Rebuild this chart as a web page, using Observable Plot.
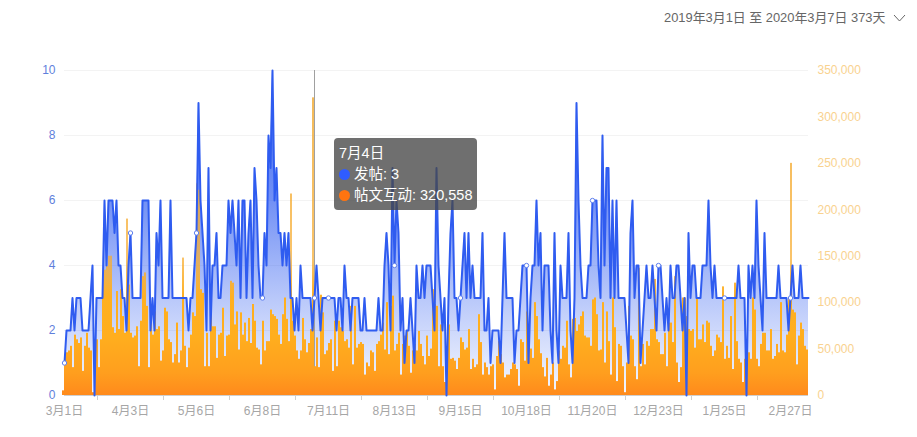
<!DOCTYPE html>
<html><head><meta charset="utf-8">
<script src="https://cdn.jsdelivr.net/npm/d3@7"></script>
<script src="https://cdn.jsdelivr.net/npm/@observablehq/plot@0.6"></script>
<style>
html,body{margin:0;padding:0;background:#fff;overflow:hidden;font-family:"Liberation Sans","Noto Sans CJK SC",sans-serif}
#wrap{position:relative;width:917px;height:437px}
#range{position:absolute;top:9px;left:664px;font-size:12.9px;line-height:17px;color:#666;white-space:nowrap}
#chev{position:absolute;left:893px;top:14px}
#tip{position:absolute;left:334px;top:137.5px;width:143px;height:72px;border-radius:4px;background:rgba(70,70,70,.78);color:#fff;font-size:14.5px;line-height:21px;box-sizing:border-box;padding:5px 0 0 5px;white-space:nowrap}
#tip i{display:inline-block;width:11px;height:11px;border-radius:50%;margin-right:4px;vertical-align:-1px}
</style></head><body>
<div id="wrap">
<div id="range"></div>
<svg id="chev" width="13" height="8" viewBox="0 0 13 8"><path d="M1 1 L6.5 7 L12 1" fill="none" stroke="#666" stroke-width="1"/></svg>
<div id="tip"></div>
</div>
<script>
const rangeLabel = "2019年3月1日 至 2020年3月7日 373天";
const startDate = new Date(Date.UTC(2019, 2, 1));
const posts = [
1,2,2,2,3,2,3,3,3,2, 2,2,2,3,4,0,3,3,3,3, 6,4,6,6,6,5,6,4,4,3, 3,2,4,5,3,3,3,3,3,6,
6,6,6,2,3,2,5,4,6,3, 3,3,3,6,3,3,3,3,3,3, 3,3,2,3,3,4,5,9,6,5, 4,2,7,2,4,4,5,3,3,4,
4,4,6,5,6,5,4,6,3,6, 6,3,5,6,3,7,6,4,3,3, 5,4,8,7,10,6,7,5,5,4, 5,4,5,3,3,2,3,2,4,3,
3,3,3,3,2,3,4,3,2,3, 3,3,3,3,3,3,2,3,3,2, 4,3,3,2,3,3,3,3,2,2, 3,2,2,2,2,2,2,3,2,2,
4,5,4,2,7,4,6,5,2,3, 1,2,2,3,2,1,4,3,3,4, 3,4,4,4,3,2,7,4,3,2, 3,0,3,5,6,3,3,2,3,4,
5,3,5,3,4,3,3,3,3,5, 2,2,3,1,2,2,2,2,1,3, 5,3,3,3,3,1,2,2,3,4, 4,4,1,3,4,4,6,4,5,2,
4,4,4,2,1,5,2,1,4,3, 3,3,5,2,1,3,9,6,4,3, 3,3,4,4,6,6,6,4,3,8, 4,7,7,3,6,3,6,3,3,3,
3,2,1,5,6,3,4,4,1,2, 3,4,3,3,4,3,2,4,4,3, 2,3,2,4,3,3,4,4,3,2, 3,0,5,3,4,4,3,3,3,4,
4,4,6,4,3,4,3,3,3,3, 3,3,3,3,3,3,3,4,3,3, 3,0,4,3,4,3,6,4,3,2, 5,3,3,3,3,3,3,4,3,3,
3,3,2,3,4,3,3,3,4,3,3,3,3];
const engagement = [
5,44,46,48,53,30,65,60,56,62, 26,53,67,51,48,3,60,60,30,60, 125,135,139,150,150,73,67,112,71,114,
85,67,190,119,67,62,64,74,31,80, 128,132,96,30,85,65,90,71,74,37, 48,94,90,60,57,35,44,78,35,48,
148,53,30,51,65,89,85,228,221,114, 110,31,67,31,94,74,74,40,65,67, 94,42,64,65,123,121,76,90,49,89,
65,78,58,83,56,98,80,51,49,33, 80,48,58,58,92,87,85,82,65,55, 87,105,82,58,217,80,64,48,39,48,
83,60,46,56,71,320.558,31,62,30,108, 89,44,48,56,60,26,80,31,80,73, 69,58,60,51,96,33,96,51,55,57,
55,22,35,31,48,46,26,55,58,65, 78,49,100,44,96,107,48,55,67,22, 55,64,69,53,24,48,55,48,69,55,
42,33,64,42,50,114,98,96,31,76, 31,14,39,76,39,40,37,28,40,62, 57,49,51,71,28,39,30,33,87,57,
22,35,30,22,31,33,6,42,58,44, 35,19,22,22,28,35,33,28,10,60, 57,37,90,60,50,40,100,85,60,45,
30,20,40,10,22,35,6,15,48,39, 53,51,80,33,19,82,83,69,76,85, 90,64,62,62,53,103,105,87,48,49,
100,35,90,58,22,105,73,15,55,53, 31,3,35,96,64,60,31,17,137,31, 55,33,58,53,71,71,125,60,57,44,
44,67,31,78,78,57,128,35,14,30, 105,105,85,71,69,71,51,105,60,60, 76,57,80,78,53,42,48,65,62,57,
117,39,53,40,85,28,121,58,39,35, 14,39,39,46,39,105,92,39,31,55, 67,67,48,48,71,39,42,55,46,100,
48,46,65,105,250,92,89,33,64,78, 71,53,49];
const leftTicks = [0,2,4,6,8,10];
const rightTicks = [0,50000,100000,150000,200000,250000,300000,350000];
const rightMax = 350000, leftMax = 10;
const labelEvery = 33;
const hoverDay = 125;
const tipTitle = "7月4日", tipPostName = "发帖", tipPostVal = "3", tipEngName = "帖文互动", tipEngVal = "320,558";

const dayAt = i => d3.utcDay.offset(startDate, i);
const rows = posts.map((p, i) => ({i, date: dayAt(i), p, v: (engagement[i] * 1000) / (rightMax / leftMax)}));
const halfDay = 12 * 3600 * 1000;
const labelled = rows.filter(r => r.i % labelEvery === 0);
const labelDates = labelled.map(r => r.date);
const midDates = labelDates.slice(0, -1).map(d => new Date(+d + labelEvery * halfDay));
const fmt = d3.format(",");
const font = '"Liberation Sans","Noto Sans CJK SC",sans-serif';

const chart = Plot.plot({
  width: 917, height: 437, marginLeft: 64, marginRight: 109, marginTop: 70, marginBottom: 42,
  style: {background: "#fff", fontFamily: font, fontSize: "12px"},
  x: {type: "utc", domain: [rows[0].date, rows[rows.length - 1].date]},
  y: {domain: [0, leftMax]},
  marks: [
    Plot.gridY(leftTicks, {stroke: "#f3f3f3", strokeOpacity: 1}),
    Plot.areaY(rows, {x: "date", y: "p", fill: "url(#postGrad)"}),
    Plot.ruleX([rows[hoverDay]], {x: "date", y1: 0, y2: leftMax, stroke: "#a0a0a0", strokeWidth: 1}),
    Plot.rectY(rows, {x1: d => new Date(+d.date - halfDay), x2: d => new Date(+d.date + halfDay), y: "v", fill: "url(#barGrad)", dx: -1}),
    Plot.ruleY([0], {stroke: "#cfcfcf"}),
    Plot.axisX({ticks: midDates, tickSize: 5, tickFormat: () => "", stroke: "#cfcfcf", label: null}),
    Plot.axisX({ticks: labelDates, tickSize: 0, tickPadding: 11, label: null, fill: "#a6a6a6", fontSize: 12,
      tickFormat: d => `${d.getUTCMonth() + 1}月${d.getUTCDate()}日`}),
    Plot.axisY({ticks: leftTicks, tickSize: 0, tickPadding: 9, label: null, fill: "#5f7fdc", fontSize: 12}),
    Plot.axisY({anchor: "right", ticks: rightTicks.map(v => v / (rightMax / leftMax)), tickSize: 0, tickPadding: 9, label: null,
      fill: "#f9d28f", fontSize: 12, tickFormat: v => fmt(Math.round(v * (rightMax / leftMax)))}),
    Plot.line(rows, {x: "date", y: "p", stroke: "#2f5cf0", strokeWidth: 2, strokeLinejoin: "round"}),
    Plot.dot(labelled.concat(rows[hoverDay]), {x: "date", y: "p", r: 2.2, fill: "#fff", stroke: "#5f80ee", strokeWidth: 1})
  ]
});
const yScale = chart.scale("y");
const defs = d3.select(chart).insert("defs", ":first-child");
const post = defs.append("linearGradient").attr("id", "postGrad").attr("x1", 0).attr("x2", 0).attr("y1", 0).attr("y2", 1);
[[0, 0.95], [0.4, 0.68], [0.7, 0.34], [0.9, 0.14], [1, 0.05]].forEach(([o, a]) =>
  post.append("stop").attr("offset", o).attr("stop-color", "#2f5cf0").attr("stop-opacity", a));
const bar = defs.append("linearGradient").attr("id", "barGrad").attr("gradientUnits", "userSpaceOnUse")
  .attr("x1", 0).attr("x2", 0).attr("y1", yScale.apply(0)).attr("y2", yScale.apply(leftMax));
[[0, "#ff8a1c", 1], [0.07, "#ff9f1e", 1], [0.18, "#ffae1e", 1], [0.3, "#ffb020", 1], [0.42, "#f7ac30", 0.72], [1, "#f2b040", 0.88]].forEach(([o, c, a]) =>
  bar.append("stop").attr("offset", o).attr("stop-color", c).attr("stop-opacity", a));
const wrap = document.getElementById("wrap");
wrap.insertBefore(chart, wrap.firstChild);
document.getElementById("range").textContent = rangeLabel;
document.getElementById("tip").innerHTML =
  `<div>${tipTitle}</div><div><i style="background:#2f5cff"></i>${tipPostName}: ${tipPostVal}</div><div><i style="background:#ff7410"></i>${tipEngName}: ${tipEngVal}</div>`;
</script>
</body></html>
